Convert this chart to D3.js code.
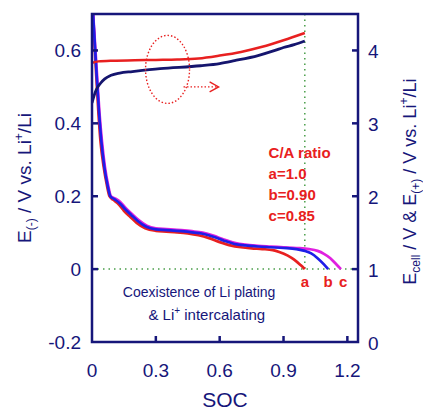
<!DOCTYPE html>
<html>
<head>
<meta charset="utf-8">
<script src="https://cdn.jsdelivr.net/npm/d3@7"></script>
<style>
  body { margin: 0; background: #fff; }
  text { font-family: "Liberation Sans", Arial, sans-serif; }
</style>
</head>
<body>
<svg id="chart" width="423" height="412"></svg>
<script>
// E(-) curves (left axis), [SOC, V]
const curveA = [[0,0.75],[0.01,0.64],[0.02,0.53],[0.03,0.43],[0.04,0.35],[0.055,0.28],[0.07,0.23],[0.082,0.2],[0.1,0.19],[0.125,0.178],[0.15,0.16],[0.18,0.143],[0.21,0.127],[0.25,0.112],[0.3,0.105],[0.35,0.103],[0.4,0.101],[0.45,0.098],[0.5,0.093],[0.55,0.085],[0.6,0.074],[0.65,0.065],[0.7,0.06],[0.75,0.057],[0.8,0.055],[0.85,0.052],[0.88,0.047],[0.92,0.037],[0.95,0.026],[0.98,0.011],[1.0,0]];
const curveB = [[0,0.75],[0.011,0.64],[0.022,0.53],[0.033,0.43],[0.044,0.35],[0.058,0.28],[0.073,0.23],[0.086,0.2],[0.105,0.192],[0.13,0.181],[0.155,0.165],[0.185,0.148],[0.215,0.132],[0.255,0.116],[0.3,0.109],[0.35,0.107],[0.42,0.104],[0.47,0.101],[0.52,0.097],[0.57,0.089],[0.62,0.078],[0.67,0.069],[0.72,0.065],[0.78,0.062],[0.84,0.06],[0.9,0.058],[0.96,0.055],[1.0,0.05],[1.03,0.043],[1.06,0.03],[1.09,0.013],[1.11,0]];
const curveC = [[0,0.75],[0.012,0.64],[0.024,0.53],[0.035,0.43],[0.047,0.35],[0.061,0.28],[0.076,0.23],[0.089,0.2],[0.108,0.194],[0.133,0.184],[0.158,0.168],[0.188,0.151],[0.218,0.135],[0.258,0.119],[0.3,0.112],[0.35,0.11],[0.42,0.107],[0.47,0.104],[0.52,0.1],[0.57,0.092],[0.62,0.081],[0.67,0.072],[0.72,0.067],[0.78,0.064],[0.84,0.062],[0.9,0.06],[0.96,0.058],[1.02,0.055],[1.06,0.05],[1.09,0.042],[1.12,0.03],[1.15,0.012],[1.17,0]];

// E_cell / E(+) curves (right axis), [SOC, V]
const cellRed = [[0,3.83],[0.03,3.85],[0.1,3.86],[0.2,3.865],[0.3,3.87],[0.4,3.875],[0.5,3.89],[0.6,3.93],[0.7,3.98],[0.8,4.05],[0.9,4.14],[1.0,4.24]];
const cellNavy = [[0,3.28],[0.01,3.38],[0.02,3.46],[0.04,3.55],[0.06,3.61],[0.09,3.66],[0.13,3.69],[0.19,3.71],[0.32,3.75],[0.51,3.79],[0.6,3.82],[0.67,3.86],[0.78,3.93],[0.86,4.0],[0.9,4.04],[0.95,4.08],[1.0,4.13]];

const xTicks = [0, 0.3, 0.6, 0.9, 1.2];
const yLeftTicks = [-0.2, 0, 0.2, 0.4, 0.6];
const yRightTicks = [0, 1, 2, 3, 4];
const ratioLines = ["C/A ratio", "a=1.0", "b=0.90", "c=0.85"];
const endLabels = [["a", 1.0], ["b", 1.11], ["c", 1.18]];

const navy = "#16167a";
const red = "#e82020";
const margin = { top: 14, right: 65, bottom: 70, left: 92 };
const width = 423, height = 412;

const x = d3.scaleLinear().domain([0, 1.25]).range([margin.left, width - margin.right]);
const yL = d3.scaleLinear().domain([-0.2, 0.7]).range([height - margin.bottom, margin.top]);
const yR = d3.scaleLinear().domain([0, 4.5]).range([height - margin.bottom, margin.top]);

const svg = d3.select('#chart');

svg.append('clipPath').attr('id', 'plot')
  .append('rect')
  .attr('x', x(0)).attr('y', yL(0.7))
  .attr('width', x(1.25) - x(0)).attr('height', yL(-0.2) - yL(0.7));

// reference dotted lines
svg.append('line')
  .attr('x1', x(0)).attr('x2', x(1.25))
  .attr('y1', yL(0)).attr('y2', yL(0))
  .attr('stroke', '#4a9e4a').attr('stroke-width', 1.5)
  .attr('stroke-dasharray', '1.5,4');
svg.append('line')
  .attr('x1', x(1.0)).attr('x2', x(1.0))
  .attr('y1', yL(0.7)).attr('y2', yL(0))
  .attr('stroke', '#4a9e4a').attr('stroke-width', 1.5)
  .attr('stroke-dasharray', '1.5,4');

const lineL = d3.line().x((d) => x(d[0])).y((d) => yL(d[1])).curve(d3.curveMonotoneX);
const lineR = d3.line().x((d) => x(d[0])).y((d) => yR(d[1])).curve(d3.curveMonotoneX);

const series = [
  { data: curveA, color: red },
  { data: curveC, color: '#e020e0' },
  { data: curveB, color: '#1e1ee8' },
];

const plot = svg.append('g').attr('clip-path', 'url(#plot)');

plot.selectAll('path.neg')
  .data(series)
  .join('path')
  .attr('class', 'neg')
  .attr('d', (d) => lineL(d.data))
  .attr('fill', 'none')
  .attr('stroke', (d) => d.color)
  .attr('stroke-width', 2.7);

plot.append('path')
  .attr('d', lineR(cellRed))
  .attr('fill', 'none').attr('stroke', red).attr('stroke-width', 2.5);
plot.append('path')
  .attr('d', lineR(cellNavy))
  .attr('fill', 'none').attr('stroke', '#15156e').attr('stroke-width', 2.8);

// frame
svg.append('rect')
  .attr('x', x(0)).attr('y', yL(0.7))
  .attr('width', x(1.25) - x(0)).attr('height', yL(-0.2) - yL(0.7))
  .attr('fill', 'none').attr('stroke', navy).attr('stroke-width', 2.5);

const tickLen = 6;
svg.selectAll('line.xt')
  .data(xTicks.slice(1))
  .join('line')
  .attr('x1', (d) => x(d)).attr('x2', (d) => x(d))
  .attr('y1', yL(-0.2)).attr('y2', yL(-0.2) - tickLen)
  .attr('stroke', navy).attr('stroke-width', 2.5);
svg.selectAll('line.ylt')
  .data(yLeftTicks.slice(1))
  .join('line')
  .attr('x1', x(0)).attr('x2', x(0) + tickLen)
  .attr('y1', (d) => yL(d)).attr('y2', (d) => yL(d))
  .attr('stroke', navy).attr('stroke-width', 2.5);
svg.selectAll('line.yrt')
  .data(yRightTicks.slice(1))
  .join('line')
  .attr('x1', x(1.25)).attr('x2', x(1.25) - tickLen)
  .attr('y1', (d) => yR(d)).attr('y2', (d) => yR(d))
  .attr('stroke', navy).attr('stroke-width', 2.5);

// tick labels
svg.selectAll('text.xl')
  .data(xTicks)
  .join('text')
  .attr('x', (d) => x(d)).attr('y', yL(-0.2) + 35)
  .attr('text-anchor', 'middle')
  .attr('font-size', 19).attr('fill', navy)
  .text((d) => d);
svg.selectAll('text.yll')
  .data(yLeftTicks)
  .join('text')
  .attr('x', x(0) - 11).attr('y', (d) => yL(d) + 7)
  .attr('text-anchor', 'end')
  .attr('font-size', 19).attr('fill', navy)
  .text((d) => d);
svg.selectAll('text.yrl')
  .data(yRightTicks)
  .join('text')
  .attr('x', x(1.25) + 10).attr('y', (d) => yR(d) + 8)
  .attr('font-size', 19).attr('fill', navy)
  .text((d) => d);

// axis titles
svg.append('text')
  .attr('x', x(0.625)).attr('y', 407)
  .attr('text-anchor', 'middle')
  .attr('font-size', 21).attr('fill', navy)
  .text('SOC');

const leftTitle = svg.append('text')
  .attr('transform', `translate(31, ${yL(0.25)}) rotate(-90)`)
  .attr('text-anchor', 'middle')
  .attr('font-size', 19).attr('fill', navy);
leftTitle.append('tspan').text('E');
leftTitle.append('tspan').attr('font-size', 12).attr('dy', 4).text('(-)');
leftTitle.append('tspan').attr('dy', -4).text(' / V vs. Li');
leftTitle.append('tspan').attr('font-size', 12).attr('dy', -8).text('+');
leftTitle.append('tspan').attr('dy', 8).text('/Li');

const rightTitle = svg.append('text')
  .attr('transform', `translate(416, ${yL(0.24)}) rotate(-90)`)
  .attr('text-anchor', 'middle')
  .attr('font-size', 18).attr('fill', navy);
rightTitle.append('tspan').text('E');
rightTitle.append('tspan').attr('font-size', 12).attr('dy', 4).text('cell');
rightTitle.append('tspan').attr('dy', -4).text(' / V & E');
rightTitle.append('tspan').attr('font-size', 12).attr('dy', 4).text('(+)');
rightTitle.append('tspan').attr('dy', -4).text(' / V vs. Li');
rightTitle.append('tspan').attr('font-size', 12).attr('dy', -8).text('+');
rightTitle.append('tspan').attr('dy', 8).text('/Li');

// C/A ratio legend
svg.selectAll('text.ratio')
  .data(ratioLines)
  .join('text')
  .attr('x', x(0.83)).attr('y', (d, i) => 158 + i * 21)
  .attr('font-size', 15).attr('font-weight', 'bold').attr('fill', red)
  .text((d) => d);

svg.selectAll('text.end')
  .data(endLabels)
  .join('text')
  .attr('x', (d) => x(d[1])).attr('y', yL(0) + 18)
  .attr('text-anchor', 'middle')
  .attr('font-size', 15).attr('font-weight', 'bold').attr('fill', red)
  .text((d) => d[0]);

// region note
const note = svg.append('g').attr('fill', navy).attr('font-size', 14);
note.append('text').attr('x', x(0.145)).attr('y', yL(-0.076)).text('Coexistence of Li plating');
const note2 = note.append('text').attr('x', x(0.265)).attr('y', yL(-0.14)).attr('font-size', 15);
note2.append('tspan').text('& Li');
note2.append('tspan').attr('font-size', 10).attr('dy', -6).text('+');
note2.append('tspan').attr('dy', 6).text(' intercalating');

// dotted ellipse and arrow pointing to right axis
svg.append('ellipse')
  .attr('cx', x(0.355)).attr('cy', yR(3.74))
  .attr('rx', 22).attr('ry', 34)
  .attr('fill', 'none').attr('stroke', red)
  .attr('stroke-width', 1.4).attr('stroke-dasharray', '1.5,2');
svg.append('line')
  .attr('x1', x(0.43)).attr('x2', x(0.595))
  .attr('y1', yR(3.5)).attr('y2', yR(3.5))
  .attr('stroke', red).attr('stroke-width', 1.4).attr('stroke-dasharray', '1.5,2');
svg.append('path')
  .attr('d', `M${x(0.595) - 9},${yR(3.5) - 5} L${x(0.595)},${yR(3.5)} L${x(0.595) - 9},${yR(3.5) + 5}`)
  .attr('fill', 'none').attr('stroke', red).attr('stroke-width', 1.4);
</script>
</body>
</html>
